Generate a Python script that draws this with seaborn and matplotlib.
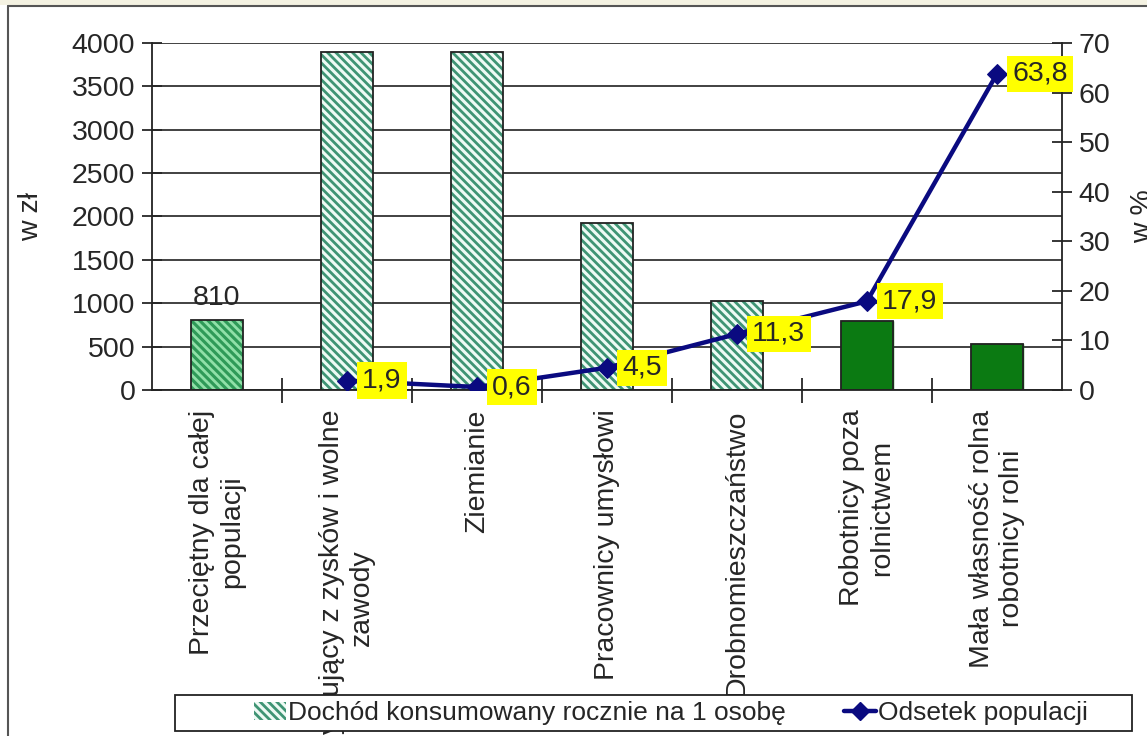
import numpy as np
import matplotlib.pyplot as plt
import seaborn as sns
from matplotlib.patches import Rectangle
from matplotlib.lines import Line2D

categories = ['Przeciętny dla całej\npopulacji',
              'Utrzymujący z zysków i wolne\nzawody',
              'Ziemianie',
              'Pracownicy umysłowi',
              'Drobnomieszczaństwo',
              'Robotnicy poza\nrolnictwem',
              'Mała własność rolna\nrobotnicy rolni']
income = [810, 3900, 3900, 1925, 1030, 790, 525]
pct_labels = ['1,9', '0,6', '4,5', '11,3', '17,9', '63,8']
pct = [1.9, 0.6, 4.5, 11.3, 17.9, 63.8]
legend_bar = 'Dochód konsumowany rocznie na 1 osobę'
legend_line = 'Odsetek populacji'

sns.set_style('white')
plt.rcParams['font.family'] = ['Liberation Sans', 'DejaVu Sans']
plt.rcParams['hatch.linewidth'] = 2.0
FS = 20.5

fig = plt.figure(figsize=(11.47, 7.36), dpi=100)
fig.patch.set_facecolor('white')
# outer frame like the screenshot
fig.patches.append(Rectangle((0, 1 - 5/736), 1, 5/736, transform=fig.transFigure,
                             facecolor='#f4f2e2', edgecolor='none', zorder=-1))
fig.lines.append(Line2D([8/1147, 1], [1 - 6/736, 1 - 6/736], transform=fig.transFigure,
                        color='#555555', lw=1.5))
fig.lines.append(Line2D([8/1147, 8/1147], [0, 1 - 6/736], transform=fig.transFigure,
                        color='#555555', lw=1.5))

ax = fig.add_axes([152/1147, 1 - 390/736, 910/1147, 347/736])
sns.barplot(x=categories, y=income, ax=ax, width=0.4, color='white', saturation=1)

HATCH = '\\' * 4
styles = [('#2f9a58', '#90e0a8'), ('#eefaf4', '#3f9474'), ('#eefaf4', '#3f9474'),
          ('#eefaf4', '#3f9474'), ('#eefaf4', '#3f9474'), ('#0b7a12', None), ('#0b7a12', None)]
for p, (fc, hc) in zip(list(ax.patches), styles):
    p.set_facecolor(fc)
    if hc:
        p.set_hatch(HATCH)
        p.set_edgecolor(hc)
        p.set_linewidth(0)
    else:
        p.set_edgecolor(fc)
    ax.add_patch(Rectangle(p.get_xy(), p.get_width(), p.get_height(), fill=False,
                           edgecolor='#222222', lw=1.3, zorder=3))

ax.set_xlim(-0.5, 6.5)
ax.set_ylim(0, 4000)
ax.set_yticks(np.arange(0, 4001, 500))
ax.set_axisbelow(True)
ax.yaxis.grid(True, color='#333333', lw=1.3)
ax.xaxis.grid(False)
for s in ['top', 'right']:
    ax.spines[s].set_visible(False)
for s in ['left', 'bottom']:
    ax.spines[s].set_color('#222222')
    ax.spines[s].set_linewidth(1.3)
ax.tick_params(axis='y', direction='inout', length=14, width=1.3, labelsize=FS, pad=5, left=True)
ax.set_xticks(np.arange(0.5, 6, 1), minor=True)
ax.tick_params(axis='x', which='minor', direction='inout', length=18, width=1.3, bottom=True)
ax.tick_params(axis='x', which='major', length=0, labelsize=FS, pad=14)
ax.set_xticks(range(len(categories)))
ax.set_xticklabels(categories, rotation=90, ha='center', va='top', multialignment='center')
ax.set_xlabel('')
ax.set_ylabel('w zł', fontsize=FS, labelpad=20)

ax.annotate('810', (0, income[0]), xytext=(0, 6), textcoords='offset points',
            ha='center', va='bottom', fontsize=FS)

ax2 = ax.twinx()
xpos = np.arange(1, len(categories))
sns.lineplot(x=xpos, y=pct, ax=ax2, color='#0a0a80', lw=3.2, marker='D',
             markersize=10, markeredgecolor='#0a0a80', legend=False)
ax2.set_ylim(0, 70)
ax2.set_yticks(np.arange(0, 71, 10))
for s in ['top', 'left', 'bottom']:
    ax2.spines[s].set_visible(False)
ax2.spines['right'].set_color('#222222')
ax2.spines['right'].set_linewidth(1.3)
ax2.tick_params(axis='y', direction='inout', length=14, width=1.3, labelsize=FS, pad=5, right=True)
ax2.set_ylabel('w %', fontsize=FS, labelpad=14)
ax2.set_xlim(-0.5, 6.5)
for x, v, t in zip(xpos, pct, pct_labels):
    ax2.annotate(t, (x, v), xytext=(11, 0), textcoords='offset points', ha='left', va='center',
                 fontsize=FS, bbox=dict(boxstyle='square,pad=0.18', fc='#ffff00', ec='none'))

# legend
fig.patches.append(Rectangle((175/1147, 1 - 731/736), 957/1147, 36/736, transform=fig.transFigure,
                             facecolor='white', edgecolor='#222222', lw=1.3, zorder=5))
h1 = Rectangle((0, 0), 1, 1, facecolor='#eefaf4', edgecolor='#3f9474', hatch=HATCH, lw=0)
h2 = Line2D([], [], color='#0a0a80', lw=3.2, marker='D', markersize=9)
leg = fig.legend([h1, h2], [legend_bar, legend_line], loc='center',
                 bbox_to_anchor=(671/1147, 1 - 713/736), ncol=2, frameon=False, fontsize=19,
                 handlelength=1.2, handletextpad=0.1, columnspacing=2.2)
leg.set_zorder(6)

fig.savefig('out.png', dpi=100)
